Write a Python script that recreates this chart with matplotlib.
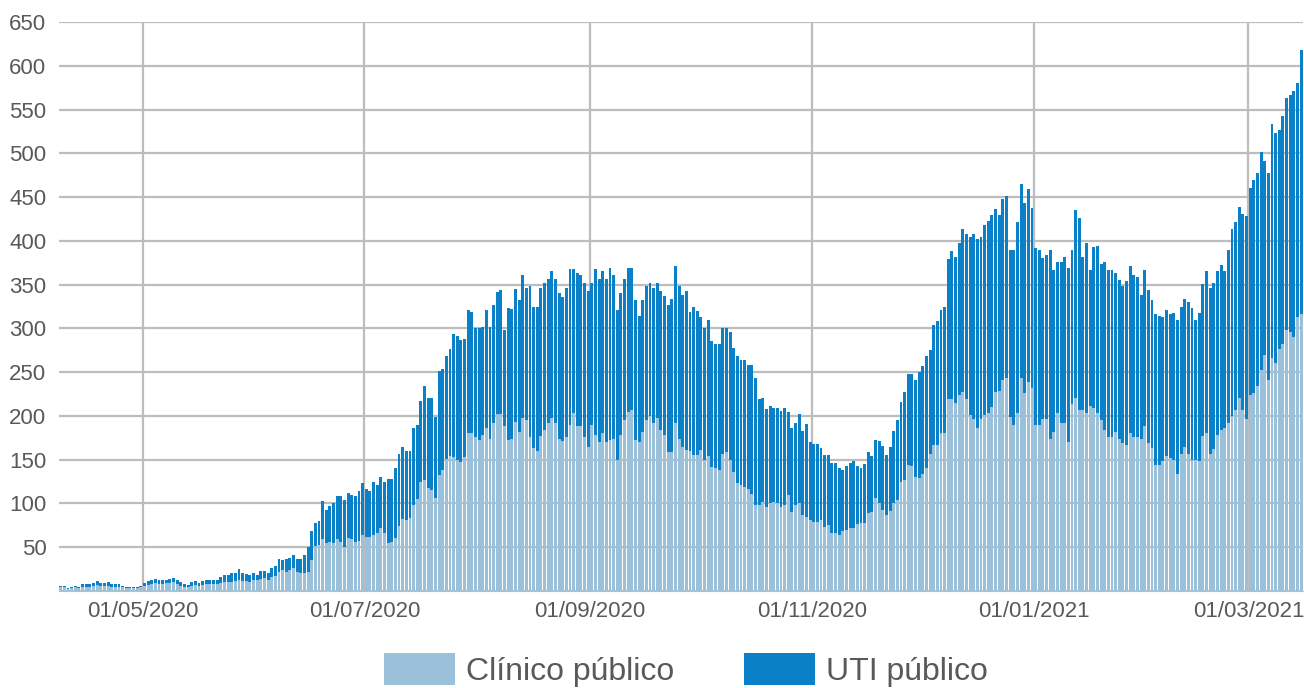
import matplotlib
matplotlib.use('Agg')
import matplotlib.pyplot as plt
import matplotlib.dates as mdates
import pandas as pd
from matplotlib.patches import Patch

plt.rcParams['font.family'] = ['Liberation Sans', 'DejaVu Sans']

# daily occupied beds, public network, starting 08/04/2020
start_date = '2020-04-08'

clinico = [
    # 08/04 - 07/06
    4, 4, 2, 3, 4, 3, 5,
    5, 5, 6, 7, 6, 6, 6,
    5, 5, 5, 4, 3, 3, 3,
    3, 4, 6, 7, 8, 9, 8,
    8, 9, 9, 10, 8, 6, 5,
    5, 6, 7, 6, 7, 8, 8,
    8, 8, 9, 10, 10, 10, 11,
    13, 11, 11, 10, 13, 12, 14,
    15, 13, 16, 17, 22,
    # 08/06 - 07/08
    24, 22, 24, 26, 22, 21, 21,
    22, 35, 51, 53, 59, 55, 56,
    55, 59, 56, 50, 60, 59, 56,
    57, 64, 62, 62, 64, 66, 72,
    66, 55, 56, 60, 74, 82, 81,
    83, 98, 105, 125, 127, 118, 115,
    106, 133, 138, 151, 154, 153, 150,
    147, 153, 180, 181, 176, 172, 178,
    186, 174, 192, 202, 202,
    # 08/08 - 16/10
    188, 173, 174, 193, 182, 198, 195,
    176, 163, 160, 177, 184, 192, 198,
    192, 174, 171, 176, 190, 203, 188,
    188, 176, 165, 190, 178, 170, 180,
    170, 173, 174, 150, 178, 195, 205,
    207, 172, 170, 182, 195, 200, 192,
    198, 184, 178, 159, 159, 192, 174,
    165, 161, 160, 155, 155, 161, 150,
    154, 142, 140, 138, 157, 159, 150,
    136, 123, 121, 119, 117, 111, 98,
    # 17/10 - 21/12
    98, 102, 96, 100, 102, 100, 96,
    98, 110, 90, 98, 100, 87, 85,
    81, 79, 79, 81, 73, 75, 66,
    66, 64, 68, 70, 72, 72, 77,
    78, 78, 89, 90, 106, 100, 93,
    87, 91, 100, 104, 124, 127, 144,
    143, 130, 129, 134, 141, 156, 167,
    167, 180, 181, 219, 219, 215, 224,
    227, 219, 201, 197, 186, 197, 201,
    203, 210, 227,
    # 22/12 - 12/02
    228, 241, 243, 199, 190, 203, 243,
    226, 239, 232, 190, 190, 197, 197,
    174, 182, 203, 192, 192, 170, 214,
    220, 207, 207, 203, 211, 209, 203,
    195, 184, 176, 176, 182, 174, 169,
    167, 180, 176, 176, 174, 188, 169,
    163, 144, 144, 148, 154, 152, 150,
    134, 157, 165, 157,
    # 13/02 - 15/03
    150, 150, 148, 177, 180, 157, 162,
    178, 184, 186, 192, 200, 207, 220,
    207, 197, 224, 226, 234, 253, 270,
    241, 266, 260, 277, 282, 298, 296,
    290, 313, 316,
]

uti = [
    # 08/04 - 07/06
    2, 2, 1, 2, 2, 2, 3,
    3, 3, 3, 4, 3, 3, 4,
    3, 3, 3, 2, 2, 2, 2,
    2, 2, 3, 4, 4, 5, 5,
    5, 4, 5, 5, 5, 4, 3,
    2, 4, 4, 3, 4, 4, 4,
    5, 4, 7, 8, 8, 10, 9,
    12, 9, 8, 8, 8, 6, 9,
    8, 7, 10, 11, 15,
    # 08/06 - 07/08
    11, 15, 14, 15, 14, 15, 20,
    28, 34, 27, 27, 44, 38, 41,
    46, 50, 53, 54, 52, 51, 53,
    57, 59, 55, 52, 61, 55, 58,
    59, 73, 72, 81, 83, 82, 79,
    77, 88, 85, 92, 107, 102, 105,
    93, 118, 116, 118, 122, 141, 141,
    140, 135, 141, 138, 124, 128, 124,
    135, 128, 135, 139, 142,
    # 08/08 - 16/10
    110, 150, 148, 152, 151, 163, 151,
    172, 161, 164, 169, 168, 164, 168,
    164, 166, 165, 170, 178, 165, 175,
    173, 176, 178, 162, 190, 186, 186,
    186, 196, 187, 171, 162, 161, 164,
    162, 160, 144, 150, 153, 152, 154,
    154, 159, 159, 168, 175, 179, 174,
    173, 182, 159, 170, 165, 152, 151,
    156, 144, 142, 144, 144, 142, 146,
    142, 146, 143, 145, 141, 147, 145,
    # 17/10 - 21/12
    121, 119, 112, 111, 107, 109, 110,
    111, 94, 96, 94, 102, 96, 106,
    89, 89, 89, 82, 82, 80, 80,
    80, 77, 70, 73, 74, 76, 66,
    63, 67, 70, 64, 67, 71, 73,
    68, 73, 83, 91, 92, 100, 104,
    105, 111, 121, 123, 128, 119, 137,
    142, 141, 143, 160, 169, 167, 174,
    187, 189, 203, 211, 216, 207, 217,
    220, 220, 209,
    # 22/12 - 12/02
    202, 207, 208, 191, 200, 219, 222,
    217, 220, 206, 202, 200, 183, 187,
    216, 185, 173, 184, 190, 199, 176,
    215, 219, 175, 194, 156, 184, 191,
    179, 192, 191, 191, 181, 181, 179,
    187, 191, 185, 183, 164, 179, 175,
    170, 173, 170, 165, 167, 165, 168,
    176, 167, 169, 173,
    # 13/02 - 15/03
    173, 160, 170, 174, 186, 189, 190,
    188, 188, 180, 198, 213, 214, 219,
    224, 231, 236, 243, 244, 249, 221,
    236, 267, 263, 250, 261, 265, 271,
    281, 267, 302,
]

series_labels = ['Clínico público', 'UTI público']
series_colors = ['#9bc1da', '#0a80c9']

y_ticks = list(range(0, 651, 50))

dates = pd.date_range(start_date, periods=len(clinico), freq='D')
x = dates + pd.Timedelta(hours=12)

fig = plt.figure(figsize=(13.04, 6.88), dpi=100)
ax = fig.add_axes([0.0452, 0.141, 0.954, 0.827])

ax.bar(x, clinico, width=0.8, color=series_colors[0], linewidth=0, zorder=2)
ax.bar(x, uti, bottom=clinico, width=0.8, color=series_colors[1], linewidth=0, zorder=2)

ax.set_xlim(dates[0], dates[-1] + pd.Timedelta(days=1))
ax.set_ylim(0, 650)
ax.set_yticks(y_ticks)
ax.set_yticklabels(['' if v == 0 else str(v) for v in y_ticks])
ax.xaxis.set_major_locator(mdates.MonthLocator(bymonth=[1, 3, 5, 7, 9, 11]))
ax.xaxis.set_major_formatter(mdates.DateFormatter('%d/%m/%Y'))

ax.grid(True, color='#bdbdbd', linewidth=1.6, zorder=0)
ax.set_axisbelow(True)
for side in ['top', 'right', 'left']:
    ax.spines[side].set_visible(False)
ax.spines['bottom'].set_color('#bdbdbd')
ax.tick_params(axis='both', length=0, labelsize=16, labelcolor='#595959')
ax.tick_params(axis='y', pad=9)
ax.tick_params(axis='x', pad=7)

handles = [Patch(facecolor=c, edgecolor='none') for c in series_colors]
fig.legend(handles, series_labels, loc='center', bbox_to_anchor=(0.526, 0.026),
           ncol=2, frameon=False, fontsize=23, labelcolor='#595959',
           handlelength=2.2, handleheight=1.13, handletextpad=0.35,
           columnspacing=2.2, borderpad=0)

fig.savefig('out.png', dpi=100)
